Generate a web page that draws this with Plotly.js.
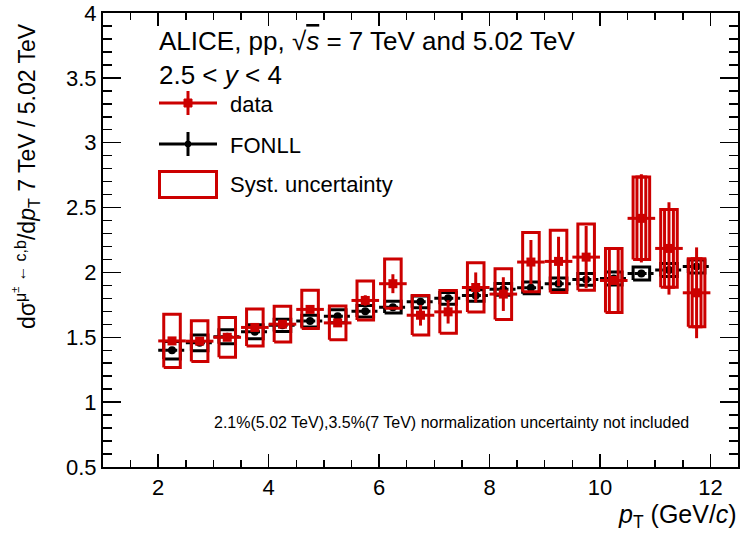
<!DOCTYPE html>
<html>
<head>
<meta charset="utf-8">
<script src="https://cdn.plot.ly/plotly-3.0.1.min.js"></script>
<style>html,body{margin:0;padding:0;background:#fff;}#chart{width:740px;height:538px;}</style>
</head>
<body>
<div id="chart"></div>
<script>
// ---- data ----
const ptCenters = [2.25, 2.75, 3.25, 3.75, 4.25, 4.75, 5.25, 5.75, 6.25, 6.75,
                   7.25, 7.75, 8.25, 8.75, 9.25, 9.75, 10.25, 10.75, 11.25, 11.75];
const binHalfWidth = 0.25;
const dataRatio = [1.472, 1.470, 1.500, 1.576, 1.601, 1.715, 1.611, 1.784, 1.913, 1.670,
                   1.696, 1.884, 1.833, 2.080, 2.085, 2.118, 1.938, 2.417, 2.185, 1.843];
const dataStat  = [0.02, 0.02, 0.02, 0.02, 0.02, 0.03, 0.03, 0.04, 0.073, 0.08,
                   0.09, 0.116, 0.13, 0.17, 0.19, 0.24, 0.02, 0.34, 0.356, 0.35];
const dataSyst  = [0.205, 0.157, 0.153, 0.143, 0.138, 0.147, 0.130, 0.150, 0.190, 0.152,
                   0.164, 0.190, 0.195, 0.228, 0.240, 0.255, 0.247, 0.318, 0.300, 0.262];
const fonllRatio = [1.400, 1.457, 1.505, 1.542, 1.592, 1.625, 1.663, 1.701, 1.732, 1.773,
                    1.800, 1.822, 1.870, 1.881, 1.912, 1.946, 1.954, 1.992, 2.018, 2.045];
const fonllUnc   = [0.068, 0.060, 0.054, 0.054, 0.047, 0.045, 0.050, 0.045, 0.045, 0.045,
                    0.045, 0.045, 0.045, 0.045, 0.045, 0.045, 0.050, 0.050, 0.050, 0.050];
const innerSystPt = [10.25, 10.75, 11.25, 11.75];

// ---- styles ----
const RED = '#cc0000';
const FONT = 'Liberation Sans, Arial, Helvetica, sans-serif';
const boxHalfW = 0.15, innerHalfW = 0.08;

function rects(xs, ys, es, hw) {
  const X = [], Y = [];
  xs.forEach((x, i) => {
    X.push(x - hw, x + hw, x + hw, x - hw, x - hw, null);
    Y.push(ys[i] - es[i], ys[i] - es[i], ys[i] + es[i], ys[i] + es[i], ys[i] - es[i], null);
  });
  return {X, Y};
}
function hsegs(xs, ys, hw) {
  const X = [], Y = [];
  xs.forEach((x, i) => { X.push(x - hw, x + hw, null); Y.push(ys[i], ys[i], null); });
  return {X, Y};
}

const redBoxes = rects(ptCenters, dataRatio, dataSyst, boxHalfW);
const innerIdx = innerSystPt.map(p => ptCenters.indexOf(p));
const innerBoxes = rects(innerSystPt, innerIdx.map(i => dataRatio[i]), innerIdx.map(i => dataSyst[i]), innerHalfW);
const blackBoxes = rects(ptCenters, fonllRatio, fonllUnc, boxHalfW);
const blackSegs = hsegs(ptCenters, fonllRatio, binHalfWidth);

const traces = [
  {x: blackBoxes.X, y: blackBoxes.Y, mode: 'lines', line: {color: '#000', width: 3}, hoverinfo: 'skip'},
  {x: blackSegs.X, y: blackSegs.Y, mode: 'lines', line: {color: '#000', width: 3, dash: '5px,2px'}, hoverinfo: 'skip'},
  {x: ptCenters, y: fonllRatio, mode: 'markers', marker: {symbol: 'circle', size: 8, color: '#000'}},
  {x: redBoxes.X, y: redBoxes.Y, mode: 'lines', line: {color: RED, width: 3}, hoverinfo: 'skip'},
  {x: innerBoxes.X, y: innerBoxes.Y, mode: 'lines', line: {color: RED, width: 3}, hoverinfo: 'skip'},
  {x: ptCenters, y: dataRatio, mode: 'markers',
   marker: {symbol: 'square', size: 9, color: RED},
   error_y: {type: 'data', array: dataStat, visible: true, color: RED, thickness: 3, width: 0},
   error_x: {type: 'constant', value: binHalfWidth, visible: true, color: RED, thickness: 3, width: 0}}
];

// pixel -> paper helper (plot area: x 103..738, y 13..467)
const L = 103, R = 738, T = 13, B = 467;
const px = v => (v - L) / (R - L);
const py = v => (B - v) / (B - T);

const shapes = [
  // legend: data
  {type: 'line', xref: 'paper', yref: 'paper', x0: px(159), x1: px(217), y0: py(103), y1: py(103), line: {color: RED, width: 3}},
  {type: 'line', xref: 'paper', yref: 'paper', x0: px(188), x1: px(188), y0: py(91), y1: py(115), line: {color: RED, width: 3}},
  {type: 'rect', xref: 'paper', yref: 'paper', x0: px(184), x1: px(192), y0: py(99), y1: py(107), fillcolor: RED, line: {color: RED, width: 1}},
  // legend: FONLL
  {type: 'line', xref: 'paper', yref: 'paper', x0: px(159), x1: px(217), y0: py(144), y1: py(144), line: {color: '#000', width: 3}},
  {type: 'line', xref: 'paper', yref: 'paper', x0: px(188), x1: px(188), y0: py(132), y1: py(156), line: {color: '#000', width: 3}},
  {type: 'circle', xref: 'paper', yref: 'paper', x0: px(185), x1: px(191), y0: py(141), y1: py(147), fillcolor: '#000', line: {color: '#000', width: 1}},
  // legend: syst box
  {type: 'rect', xref: 'paper', yref: 'paper', x0: px(159.5), x1: px(216.5), y0: py(171.5), y1: py(197.5), line: {color: RED, width: 3}}
];

const annotations = [
  {xref: 'paper', yref: 'paper', x: px(157), y: py(41), xanchor: 'left', yanchor: 'middle', showarrow: false,
   text: 'ALICE, pp, √<span style="text-decoration:overline"><i>s</i></span> = 7 TeV and 5.02 TeV', font: {family: FONT, size: 26, color: '#000'}},
  {xref: 'paper', yref: 'paper', x: px(157), y: py(75), xanchor: 'left', yanchor: 'middle', showarrow: false,
   text: '2.5 &lt; <i>y</i> &lt; 4', font: {family: FONT, size: 26, color: '#000'}},
  {xref: 'paper', yref: 'paper', x: px(228), y: py(104), xanchor: 'left', yanchor: 'middle', showarrow: false,
   text: 'data', font: {family: FONT, size: 22, color: '#000'}},
  {xref: 'paper', yref: 'paper', x: px(228), y: py(145), xanchor: 'left', yanchor: 'middle', showarrow: false,
   text: 'FONLL', font: {family: FONT, size: 22, color: '#000'}},
  {xref: 'paper', yref: 'paper', x: px(228), y: py(184), xanchor: 'left', yanchor: 'middle', showarrow: false,
   text: 'Syst. uncertainty', font: {family: FONT, size: 22, color: '#000'}},
  {xref: 'paper', yref: 'paper', x: px(212), y: py(422), xanchor: 'left', yanchor: 'middle', showarrow: false,
   text: '2.1%(5.02 TeV),3.5%(7 TeV) normalization uncertainty not included', font: {family: FONT, size: 16, color: '#000'}},
  {xref: 'paper', yref: 'paper', x: px(739), y: py(516), xanchor: 'right', yanchor: 'middle', showarrow: false,
   text: '<i>p</i><sub>T</sub> (GeV/<i>c</i>)', font: {family: FONT, size: 25, color: '#000'}},
  {xref: 'paper', yref: 'paper', x: px(26), y: py(176), xanchor: 'center', yanchor: 'middle', showarrow: false, textangle: -90,
   text: 'dσ<sup>μ<sup>±</sup> ← c,b</sup>/d<i>p</i><sub>T</sub> 7 TeV / 5.02 TeV', font: {family: FONT, size: 23, color: '#000'}}
];

const axisCommon = {
  showgrid: false, zeroline: false, showline: true, linecolor: '#000', linewidth: 2,
  ticks: 'inside', mirror: 'ticks', tickcolor: '#000', tickwidth: 1.5,
  tickfont: {family: FONT, size: 22, color: '#000'}
};

const layout = {
  width: 740, height: 538,
  margin: {l: L, r: 740 - R, t: T, b: 538 - B, pad: 0},
  paper_bgcolor: '#fff', plot_bgcolor: '#fff',
  showlegend: false,
  xaxis: Object.assign({}, axisCommon, {range: [1, 12.5], tick0: 0, dtick: 2, ticklen: 13,
    minor: {dtick: 0.5, ticks: 'inside', ticklen: 7, tickcolor: '#000', tickwidth: 1.5, showgrid: false}}),
  yaxis: Object.assign({}, axisCommon, {range: [0.5, 4], tick0: 0, dtick: 0.5, ticklen: 18,
    minor: {dtick: 0.1, ticks: 'inside', ticklen: 9, tickcolor: '#000', tickwidth: 1.5, showgrid: false}}),
  shapes: shapes,
  annotations: annotations
};

Plotly.newPlot('chart', traces, layout, {staticPlot: true, displayModeBar: false});
</script>
</body>
</html>
